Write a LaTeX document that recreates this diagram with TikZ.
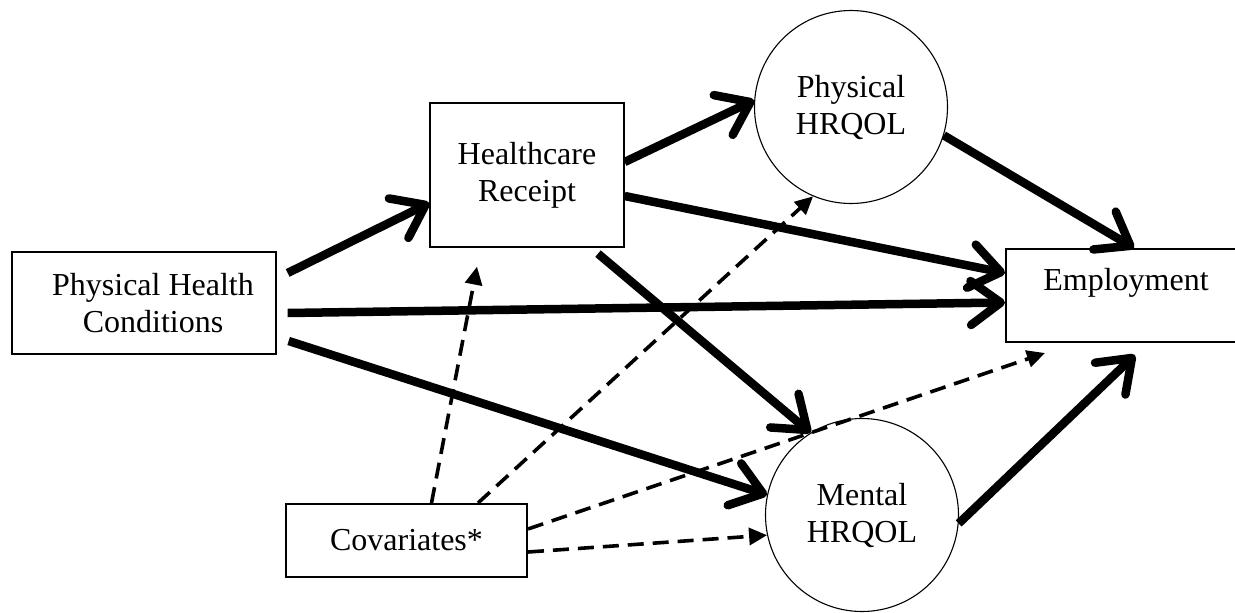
\documentclass[tikz,border=0pt]{standalone}
\usepackage{fontspec}
\setmainfont{Liberation Serif}
\usetikzlibrary{arrows.meta,calc}
\begin{document}
\begin{tikzpicture}[x=1pt,y=-1pt,
  every node/.style={font=\fontsize{32}{37}\selectfont, align=center, inner sep=0pt},
  thinbox/.style={draw, line width=1.3pt, rectangle},
  thickbox/.style={draw, line width=2pt, rectangle},
  bubble/.style={draw, line width=1.1pt, circle, minimum size=193pt},
  strong/.style={line width=8.5pt, -{Straight Barb[length=30pt,width=44pt,round]}},
  cov/.style={line width=3.6pt, dash pattern=on 16pt off 9pt, -{Triangle[length=18pt,width=17pt]}}
]
\useasboundingbox (0,0) rectangle (1235,613);
\node[thinbox, minimum width=264pt, minimum height=102pt] (phc) at (144,303)
  {\hspace*{18pt}Physical Health\\\hspace*{18pt}Conditions};
\node[thinbox, minimum width=194pt, minimum height=144pt] (hr) at (527,175)
  {Healthcare\\Receipt};
\node[bubble] (phq) at (851,107) {Physical\\HRQOL};
\node[bubble] (mhq) at (862,515) {Mental\\HRQOL};
\node[thickbox, minimum width=240pt, minimum height=93pt, text height=21pt, text depth=32pt] (emp) at (1126,295.5)
  {Employment};
\node[thickbox, minimum width=241pt, minimum height=73pt] (cv) at (406.5,540.5)
  {Covariates*};

% solid paths
\draw[strong] ($(phc.east)+(11,-30)$) -- ($(hr.west)+(0,28)$);
\draw[strong] ($(phc.east)+(11,10)$) -- ($(emp.west)+(0,7)$);
\draw[strong] ($(phc.east)+(12,38)$) -- (mhq.168);
\draw[strong] ($(hr.east)+(0,-13)$) -- (phq.176);
\draw[strong] ($(hr.east)+(0,21)$) -- ($(emp.west)+(0,-22.5)$);
\draw[strong] ($(hr.south)+(71,6)$) -- (mhq.122);
\draw[strong] (phq.-17) -- ($(emp.north)+(8,0)$);
\draw[strong] (mhq.-5) -- ($(emp.south)+(9,12)$);

% dashed paths
\draw[cov] ($(cv.north)+(25,0)$) -- ($(hr.south)+(-50,19)$);
\draw[cov] ($(cv.north)+(71.5,0)$) -- (phq.-113);
\draw[cov] ($(cv.east)+(0,-11.5)$) -- ($(emp.south)+(-81,10)$);
\draw[cov] ($(cv.east)+(0,11.5)$) -- (mhq.-168);
\end{tikzpicture}
\end{document}
